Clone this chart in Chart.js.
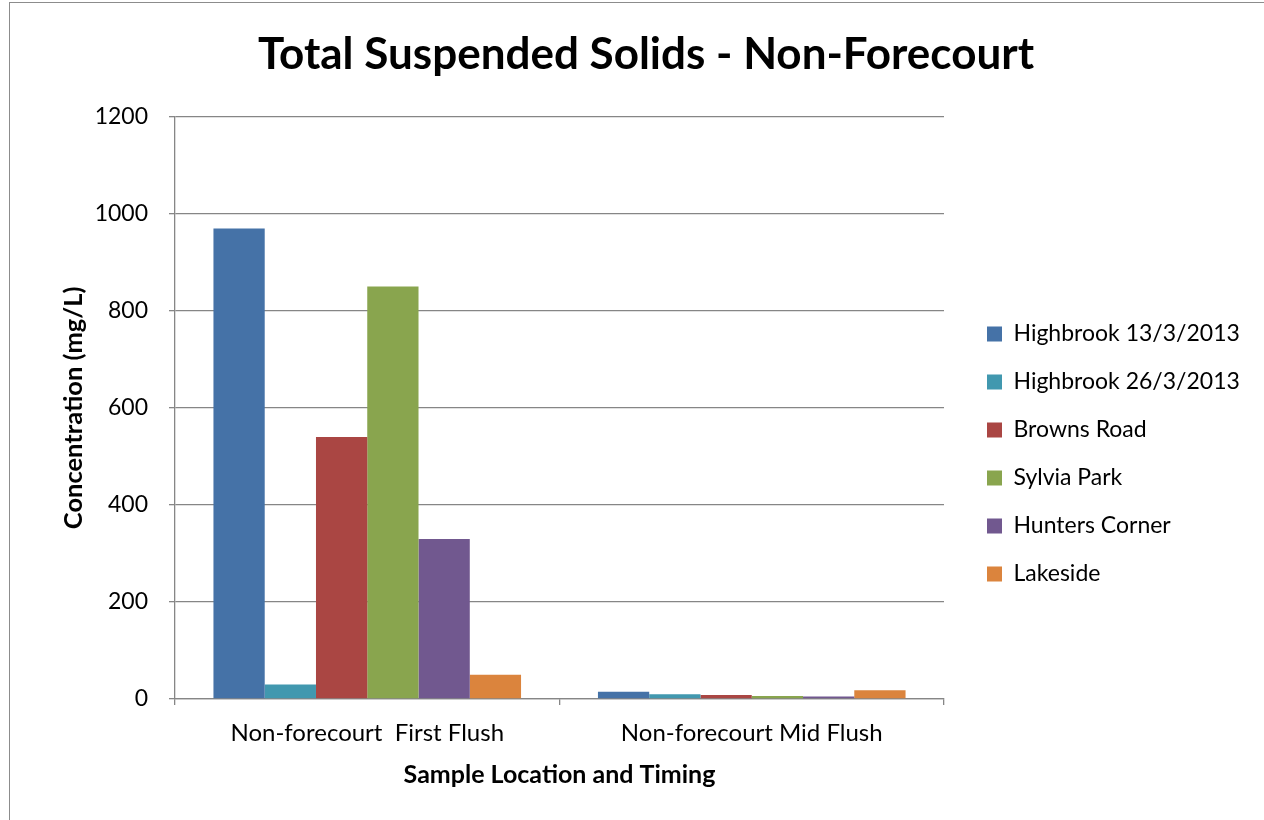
<!DOCTYPE html>
<html>
<head>
<meta charset="utf-8">
<script src="https://cdn.jsdelivr.net/npm/chart.js@4.4.1/dist/chart.umd.min.js"></script>
<style>
  html, body { margin: 0; padding: 0; background: #fff; }
  #wrap { position: relative; width: 1264px; height: 820px; overflow: hidden; }
  #frame { position: absolute; left: 9px; top: 2px; width: 1400px; height: 1000px; border: 1.5px solid #8c8c8c; box-sizing: border-box; }
  canvas { position: absolute; left: 0; top: 0; }
</style>
</head>
<body>
<div id="wrap">
  <div id="frame"></div>
  <canvas id="chart" width="1264" height="820"></canvas>
</div>
<script>
// data
const categories = ['Non-forecourt  First Flush', 'Non-forecourt Mid Flush'];
const seriesNames = ['Highbrook 13/3/2013', 'Highbrook 26/3/2013', 'Browns Road', 'Sylvia Park', 'Hunters Corner', 'Lakeside'];
const highbrook13 = [970, 15];
const highbrook26 = [30, 10];
const brownsRoad = [540, 8];
const sylviaPark = [850, 6];
const huntersCorner = [330, 5];
const lakeside = [50, 18];
const yTicks = [0, 200, 400, 600, 800, 1000, 1200];

const colors = ['#4572A7', '#4198AF', '#AA4643', '#89A54E', '#71588F', '#DB843D'];
const seriesValues = [highbrook13, highbrook26, brownsRoad, sylviaPark, huntersCorner, lakeside];

const FONT = 'Lato, "Liberation Sans", sans-serif';
const gridGray = '#868686';

// put legend + title where Excel had them
const placeBoxes = {
    id: 'placeBoxes',
    afterLayout(chart) {
        const lg = chart.legend;
        if (lg) {
            const w = lg.width;
            lg.left = 962;
            lg.right = lg.left + w;
            lg.top = 117;
            lg.bottom = 791;
        }
        const tb = chart.titleBlock;
        if (tb) {
            tb.left = 0;
            tb.right = 1292;
            tb.width = 1292;
        }
    }
};

const ctx = document.getElementById('chart');

const myChart = new Chart(ctx, {
    type: 'bar',
    data: {
        labels: categories,
        datasets: seriesNames.map((name, i) => ({
            label: name,
            data: seriesValues[i],
            backgroundColor: colors[i],
            borderWidth: 0,
            categoryPercentage: 0.8,
            barPercentage: 1.0
        }))
    },
    options: {
        responsive: false,
        animation: false,
        layout: {
            padding: { left: 0, right: 320, top: 0, bottom: 0 }
        },
        scales: {
            y: {
                min: 0,
                max: 1200,
                afterBuildTicks: (axis) => { axis.ticks = yTicks.map(v => ({ value: v })); },
                afterFit: (axis) => { axis.width = 175; },
                grid: {
                    color: gridGray,
                    lineWidth: 1.3,
                    tickLength: 6
                },
                border: { color: gridGray, width: 1.3 },
                ticks: {
                    color: '#000',
                    padding: 21,
                    callback: (v) => String(v),
                    font: { family: FONT, size: 23 }
                },
                title: {
                    display: true,
                    text: 'Concentration (mg/L)',
                    color: '#000',
                    padding: { top: 58, bottom: 0 },
                    font: { family: FONT, size: 25.5, weight: 'bold' }
                }
            },
            x: {
                afterFit: (axis) => { axis.height = 121; },
                grid: {
                    color: gridGray,
                    lineWidth: 1.3,
                    drawOnChartArea: false,
                    tickLength: 6
                },
                border: { color: gridGray, width: 1.3 },
                ticks: {
                    color: '#000',
                    padding: 14,
                    font: { family: FONT, size: 24 }
                },
                title: {
                    display: true,
                    text: 'Sample Location and Timing',
                    color: '#000',
                    padding: { top: 0, bottom: 30 },
                    font: { family: FONT, size: 25, weight: 'bold' }
                }
            }
        },
        plugins: {
            title: {
                display: true,
                text: 'Total Suspended Solids - Non-Forecourt',
                color: '#000',
                padding: { top: 28, bottom: 36 },
                font: { family: FONT, size: 44, weight: 'bold' }
            },
            legend: {
                position: 'chartArea',
                labels: {
                    color: '#000',
                    boxWidth: 15,
                    boxHeight: 15,
                    padding: 25,
                    font: { family: FONT, size: 23 }
                }
            },
            tooltip: { enabled: false }
        }
    },
    plugins: [placeBoxes]
});
</script>
</body>
</html>
